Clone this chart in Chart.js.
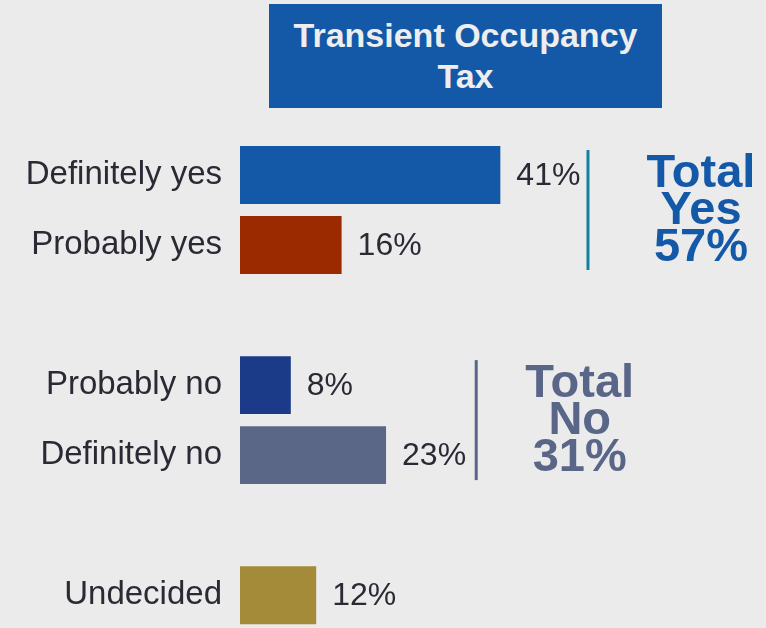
<!DOCTYPE html>
<html lang="en">
<head>
    <meta charset="UTF-8">
    <title>Transient Occupancy Tax</title>
    <script src="https://cdn.jsdelivr.net/npm/chart.js"></script>
    <style>
        body, html {
            margin: 0;
            padding: 0;
            overflow: hidden;
            background-color: #ebebeb;
            font-family: 'Liberation Sans', Arial, sans-serif;
        }
        .wrap {
            position: relative;
            width: 766px;
            height: 628px;
            overflow: hidden;
        }
        .chart-box {
            position: absolute;
            left: 0;
            top: 0;
            width: 766px;
            height: 668px;
        }
        .title-box {
            position: absolute;
            left: 269px;
            top: 4px;
            width: 393px;
            height: 104px;
            background-color: #1459a8;
            color: #eeeeee;
            font-weight: bold;
            font-size: 34px;
            line-height: 41px;
            text-align: center;
            display: flex;
            align-items: center;
            justify-content: center;
        }
    </style>
</head>
<body>
    <div class="wrap">
        <div class="chart-box"><canvas id="chart"></canvas></div>
        <div class="title-box">Transient Occupancy<br>Tax</div>
    </div>
    <script>
        // answers, with blank rows separating the groups
        const categories = ['Definitely yes', 'Probably yes', '', 'Probably no', 'Definitely no', '', 'Undecided'];
        const values = [41, 16, null, 8, 23, null, 12];
        const barColors = ['#1459a8', '#9c2a00', null, '#1b3a87', '#5b6787', null, '#a38b3a'];

        // "Total" groups: which rows they add up
        const groupNames = ['Yes', 'No'];
        const groupRows = [[0, 1], [3, 4]];
        const groupColors = ['#1459a8', '#5a6688'];
        const groupLineColors = ['#13809e', '#5a6688'];
        const groupLineAt = [54.8, 37.2];   // x value of bracket line
        const groupTextAt = [72.6, 53.5];   // x value of text centre

        const textColor = '#2a2a35';
        const fontFamily = "'Liberation Sans', Arial, sans-serif";

        const valueLabels = {
            id: 'valueLabels',
            afterDatasetsDraw(chart) {
                const ctx = chart.ctx;
                const meta = chart.getDatasetMeta(0);
                ctx.save();
                ctx.font = '32px ' + fontFamily;
                ctx.fillStyle = textColor;
                ctx.textAlign = 'left';
                ctx.textBaseline = 'middle';
                meta.data.forEach((bar, i) => {
                    if (values[i] == null) return;
                    ctx.fillText(values[i] + '%', bar.x + 16, bar.y + 1);
                });
                ctx.restore();
            }
        };

        const groupTotals = {
            id: 'groupTotals',
            afterDatasetsDraw(chart) {
                const ctx = chart.ctx;
                const xs = chart.scales.x;
                const ys = chart.scales.y;
                ctx.save();
                groupNames.forEach((name, g) => {
                    const rows = groupRows[g];
                    const total = rows.reduce((s, r) => s + values[r], 0);
                    const yMid = (ys.getPixelForValue(rows[0]) + ys.getPixelForValue(rows[rows.length - 1])) / 2;

                    // bracket line
                    const lx = xs.getPixelForValue(groupLineAt[g]);
                    ctx.strokeStyle = groupLineColors[g];
                    ctx.lineWidth = 3;
                    ctx.beginPath();
                    ctx.moveTo(lx, yMid - 60);
                    ctx.lineTo(lx, yMid + 60);
                    ctx.stroke();

                    // stacked text
                    const tx = xs.getPixelForValue(groupTextAt[g]);
                    ctx.fillStyle = groupColors[g];
                    ctx.font = 'bold 47px ' + fontFamily;
                    ctx.textAlign = 'center';
                    ctx.textBaseline = 'alphabetic';
                    const lines = ['Total', name, total + '%'];
                    lines.forEach((t, k) => {
                        ctx.fillText(t, tx, yMid + 14 + (k - 1) * 37);
                    });
                });
                ctx.restore();
            }
        };

        new Chart(document.getElementById('chart'), {
            type: 'bar',
            data: {
                labels: categories,
                datasets: [{
                    data: values,
                    backgroundColor: barColors,
                    barPercentage: 0.827,
                    categoryPercentage: 1.0
                }]
            },
            plugins: [valueLabels, groupTotals],
            options: {
                indexAxis: 'y',
                responsive: true,
                maintainAspectRatio: false,
                animation: false,
                layout: {
                    padding: { top: 140, bottom: 9, left: 0, right: 18 }
                },
                plugins: {
                    legend: { display: false },
                    tooltip: { enabled: false }
                },
                scales: {
                    x: {
                        display: false,
                        min: 0,
                        max: 80
                    },
                    y: {
                        afterFit(scale) { scale.width = 240; },
                        grid: { display: false, drawTicks: false },
                        border: { display: false },
                        ticks: {
                            color: textColor,
                            padding: 18,
                            font: { family: fontFamily, size: 33 }
                        }
                    }
                }
            }
        });
    </script>
</body>
</html>
